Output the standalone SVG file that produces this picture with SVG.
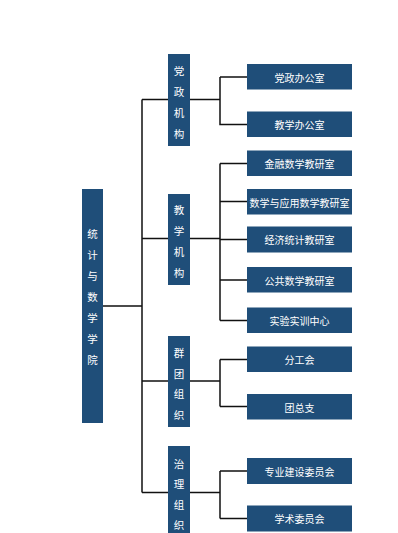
<svg xmlns="http://www.w3.org/2000/svg" width="398" height="533" viewBox="0 0 398 533">
<style>
.b{fill:#1f4e79}
.t{fill:#fff;font-family:"Noto Sans CJK SC","Noto Sans",sans-serif;font-size:10px;text-anchor:middle;dominant-baseline:central}
.v{font-size:10.5px}
.c{fill:none;stroke:#111;stroke-width:1.5}
</style>
<rect width="398" height="533" fill="#fff"/>
<g id="connectors">
<path class="c" d="M103 306H142M142 99.5V492.5M142 99.5H168M142 238.5H168M142 381H168M142 492.5H168"/>
<path class="c" d="M190 99.5H220M220 77H247M220 77V124.5H247"/>
<path class="c" d="M190 238.5H220M220 163.5V320.5M220 163.5H247M220 201.5H247M220 239.5H247M220 280H247M220 320.5H247"/>
<path class="c" d="M190 381H220M220 359.5V406.5M220 359.5H247M220 406.5H247"/>
<path class="c" d="M190 492.5H220M220 471V518.5M220 471H247M220 518.5H247"/>
</g>
<g id="college"><rect class="b" x="82" y="189" width="21" height="234"/>
<text class="t v" x="92.5" y="233">统</text><text class="t v" x="92.5" y="254">计</text><text class="t v" x="92.5" y="275">与</text><text class="t v" x="92.5" y="296">数</text><text class="t v" x="92.5" y="317">学</text><text class="t v" x="92.5" y="338">学</text><text class="t v" x="92.5" y="359">院</text></g>
<g id="dangzheng"><rect class="b" x="168" y="54" width="22" height="92"/>
<text class="t v" x="179" y="70">党</text><text class="t v" x="179" y="91">政</text><text class="t v" x="179" y="112">机</text><text class="t v" x="179" y="133">构</text></g>
<g id="jiaoxue"><rect class="b" x="168" y="194" width="22" height="91"/>
<text class="t v" x="179" y="209">教</text><text class="t v" x="179" y="230">学</text><text class="t v" x="179" y="251">机</text><text class="t v" x="179" y="272">构</text></g>
<g id="quntuan"><rect class="b" x="168" y="336" width="22" height="91"/>
<text class="t v" x="179" y="352">群</text><text class="t v" x="179" y="373">团</text><text class="t v" x="179" y="393">组</text><text class="t v" x="179" y="414">织</text></g>
<g id="zhili"><rect class="b" x="168" y="446" width="22" height="92"/>
<text class="t v" x="179" y="463">治</text><text class="t v" x="179" y="483">理</text><text class="t v" x="179" y="504">组</text><text class="t v" x="179" y="524">织</text></g>
<g id="n1"><rect class="b" x="247" y="64" width="105" height="25.5"/><text class="t" x="299.5" y="77">党政办公室</text></g>
<g id="n2"><rect class="b" x="247" y="111.5" width="105" height="25.5"/><text class="t" x="299.5" y="124.5">教学办公室</text></g>
<g id="n3"><rect class="b" x="247" y="150.5" width="105" height="25.5"/><text class="t" x="299.5" y="163.5">金融数学教研室</text></g>
<g id="n4"><rect class="b" x="247" y="189" width="105" height="25.5"/><text class="t" x="299.5" y="202">数学与应用数学教研室</text></g>
<g id="n5"><rect class="b" x="247" y="226.5" width="105" height="26"/><text class="t" x="299.5" y="239.5">经济统计教研室</text></g>
<g id="n6"><rect class="b" x="247" y="267" width="105" height="25.5"/><text class="t" x="299.5" y="280">公共数学教研室</text></g>
<g id="n7"><rect class="b" x="247" y="307.5" width="105" height="25.5"/><text class="t" x="299.5" y="320.5">实验实训中心</text></g>
<g id="n8"><rect class="b" x="247" y="346.5" width="105" height="25.5"/><text class="t" x="299.5" y="359.5">分工会</text></g>
<g id="n9"><rect class="b" x="247" y="394" width="105" height="25.5"/><text class="t" x="299.5" y="407">团总支</text></g>
<g id="n10"><rect class="b" x="247" y="458" width="105" height="26"/><text class="t" x="299.5" y="471">专业建设委员会</text></g>
<g id="n11"><rect class="b" x="247" y="505.5" width="105" height="26"/><text class="t" x="299.5" y="518.5">学术委员会</text></g>
</svg>
